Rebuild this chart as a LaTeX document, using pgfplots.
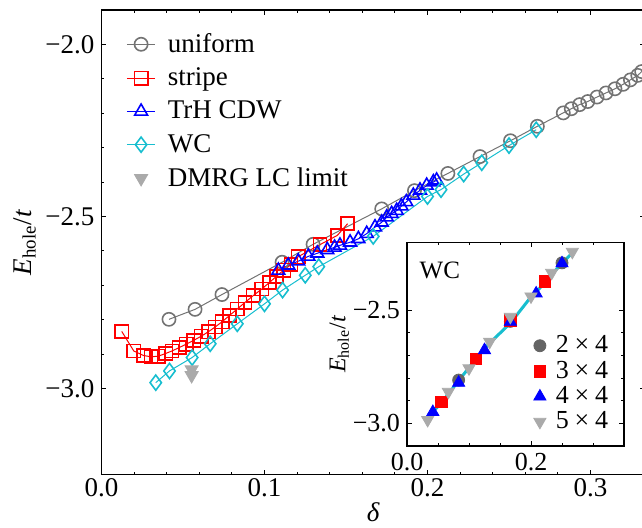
\documentclass[border=0pt]{standalone}
\usepackage{pgfplots}
\pgfplotsset{compat=1.18}
\usepackage{fontspec}
\setmainfont{Liberation Serif}
\definecolor{ugray}{HTML}{737373}
\definecolor{wccyan}{HTML}{17BECF}
\definecolor{lgray}{HTML}{AAAAAA}
\definecolor{dgray}{HTML}{646464}
\newcommand{\tx}{\hspace{0.22em}×\hspace{0.22em}}
\begin{document}
\begin{tikzpicture}[font=\fontsize{13.5}{16}\selectfont]
\begin{axis}[name=main, scale only axis, width=271.75pt, height=232.25pt,
  xmin=0, xmax=0.33344, ymin=-3.25, ymax=-1.9,
  xtick={0,0.1,0.2,0.3}, xticklabels={0.0,0.1,0.2,0.3},
  ytick={-3,-2.5,-2}, yticklabels={−3.0,−2.5,−2.0},
  minor x tick num=4, minor y tick num=4,
  tick align=inside, major tick length=2.5pt, minor tick length=1.5pt,
  every tick/.style={black, line width=0.5pt},
  axis line style={line width=0.6pt},
  xticklabel style={yshift=1.5pt},
  xlabel={\textit{δ}}, xlabel style={yshift=4pt},
  ylabel={\textit{E}\textsubscript{hole}/\textit{t}}, ylabel shift=-2pt,
  legend style={at={(0.034,0.968)}, anchor=north west, draw=none, fill=none,
    font=\fontsize{13.5}{16}\selectfont, row sep=2.2pt,
    /tikz/every odd column/.append style={column sep=4pt}},
  legend cell align=left,
  legend image code/.code={\draw[mark repeat=2,mark phase=2,#1] plot coordinates {(0cm,0cm) (0.25cm,0cm) (0.5cm,0cm)};},
]
\addplot[ugray, line width=0.5pt, mark=o, mark size=3.3pt, mark options={line width=0.8pt}] coordinates {
(0.0414,-2.799) (0.0574,-2.770) (0.0739,-2.727) (0.1108,-2.633) (0.1298,-2.581)
(0.1719,-2.478) (0.1920,-2.425) (0.2125,-2.375) (0.2322,-2.326) (0.2509,-2.280)
(0.2674,-2.238) (0.2833,-2.199) (0.2882,-2.187) (0.2933,-2.175) (0.2983,-2.166)
(0.3040,-2.153) (0.3095,-2.141) (0.3150,-2.129) (0.3200,-2.116) (0.3245,-2.103)
(0.3290,-2.090) (0.3314,-2.079) (0.3360,-2.068)};
\addlegendentry{uniform}
\addplot[red, line width=0.5pt, mark=square, mark size=3.3pt, mark options={line width=0.8pt}] coordinates {
(0.0124,-2.834) (0.0198,-2.891) (0.0257,-2.904) (0.0304,-2.908) (0.0349,-2.906)
(0.0395,-2.898) (0.0432,-2.891) (0.0477,-2.881) (0.0520,-2.871) (0.0566,-2.860)
(0.0612,-2.848) (0.0656,-2.835) (0.0698,-2.821) (0.0740,-2.806) (0.0785,-2.788)
(0.0833,-2.769) (0.0880,-2.750) (0.0931,-2.730) (0.0983,-2.711) (0.1030,-2.692)
(0.1073,-2.674) (0.1118,-2.656) (0.1163,-2.640) (0.1207,-2.617) (0.1340,-2.582)
(0.1447,-2.555) (0.1510,-2.521)};
\addlegendentry{stripe}
\addplot[blue, line width=0.5pt, mark=triangle, mark size=3.7pt, mark options={line width=0.8pt}] coordinates {
(0.1085,-2.657) (0.1146,-2.642) (0.1207,-2.630) (0.1269,-2.616) (0.1324,-2.607)
(0.1385,-2.597) (0.1430,-2.590) (0.1463,-2.584) (0.1525,-2.575) (0.1576,-2.565)
(0.1627,-2.550) (0.1678,-2.531) (0.1719,-2.517) (0.1750,-2.502) (0.1780,-2.492)
(0.1811,-2.483) (0.1840,-2.470) (0.1870,-2.458) (0.1913,-2.439) (0.1954,-2.424)
(0.1995,-2.410) (0.2036,-2.400) (0.2056,-2.395)};
\addlegendentry{TrH CDW}
\addplot[wccyan, line width=0.5pt, mark=diamond, mark size=3.8pt, mark options={line width=0.8pt}] coordinates {
(0.0333,-2.983) (0.0417,-2.949) (0.0556,-2.910) (0.0667,-2.870) (0.0833,-2.812)
(0.1000,-2.754) (0.1111,-2.714) (0.1250,-2.671) (0.1333,-2.646) (0.1667,-2.558)
(0.2000,-2.442) (0.2083,-2.422) (0.2222,-2.377) (0.2333,-2.344) (0.2500,-2.294)
(0.2667,-2.248)};
\addlegendentry{WC}
\addplot[only marks, lgray, mark=triangle*, mark size=3.8pt, mark options={rotate=180, fill=lgray, draw=lgray}] coordinates {
(0.0553,-2.945) (0.0553,-2.962)};
\addlegendentry{DMRG LC limit}
\end{axis}
\begin{axis}[at={(152.75pt,14.25pt)}, anchor=south west, scale only axis,
  width=108.5pt, height=101.85pt,
  xmin=0, xmax=0.35, ymin=-3.1, ymax=-2.2013,
  axis background/.style={fill=white},
  xtick={0,0.2}, xticklabels={0.0,0.2}, minor xtick={0.05,0.1,0.15,0.25,0.3},
  ytick={-3,-2.5}, yticklabels={−3.0,−2.5}, minor y tick num=4,
  tick align=inside, major tick length=2.5pt, minor tick length=1.5pt,
  every tick/.style={black, line width=0.5pt},
  axis line style={line width=0.6pt},
  tick label style={font=\fontsize{13}{14}\selectfont},
  label style={font=\fontsize{12}{14}\selectfont},
  ylabel={\textit{E}\textsubscript{hole}/\textit{t}}, ylabel shift=-5pt,
  legend style={at={(0.555,0.035)}, anchor=south west, draw=none, fill=none,
    font=\fontsize{13}{14}\selectfont, row sep=0pt,
    nodes={inner ysep=1.3pt},
    /tikz/every odd column/.append style={column sep=3pt}},
  legend cell align=left,
  legend image code/.code={\draw[#1] plot coordinates {(0.15cm,0cm)};},
]
\addplot[only marks, dgray, mark=*, mark size=3pt, mark options={fill=dgray, draw=dgray}] coordinates {
(0.0833,-2.809) (0.1667,-2.550) (0.2500,-2.292)};
\addlegendentry{2\tx4}
\addplot[only marks, red, mark=square*, mark size=2.9pt, mark options={fill=red, draw=red}] coordinates {
(0.0556,-2.906) (0.1111,-2.716) (0.1667,-2.547) (0.2222,-2.375)};
\addlegendentry{3\tx4}
\addplot[only marks, blue, mark=triangle*, mark size=3.5pt, mark options={fill=blue, draw=blue}] coordinates {
(0.0417,-2.950) (0.0833,-2.821) (0.1250,-2.677) (0.1667,-2.552) (0.2083,-2.427) (0.2500,-2.294)};
\addlegendentry{4\tx4}
\addplot[only marks, lgray, mark=triangle*, mark size=3.5pt, mark options={rotate=180, fill=lgray, draw=lgray}] coordinates {
(0.0333,-2.985) (0.0667,-2.861) (0.1000,-2.757) (0.1333,-2.640) (0.1667,-2.530)
(0.2000,-2.440) (0.2333,-2.336) (0.2667,-2.243)};
\addlegendentry{5\tx4}
\addplot[wccyan, line width=1.5pt, forget plot] coordinates {
(0.0333,-2.983) (0.0417,-2.949) (0.0556,-2.910) (0.0667,-2.870) (0.0833,-2.812)
(0.1000,-2.754) (0.1111,-2.714) (0.1250,-2.671) (0.1333,-2.646) (0.1667,-2.558)
(0.2000,-2.442) (0.2083,-2.422) (0.2222,-2.377) (0.2333,-2.344) (0.2500,-2.294)
(0.2667,-2.248)};
\node[font=\fontsize{12.5}{14}\selectfont] at (axis cs:0.053,-2.324) {WC};
\end{axis}
\pgfresetboundingbox
\useasboundingbox (-50.75pt,-26.25pt) rectangle (270.25pt,237.25pt);
\end{tikzpicture}
\end{document}
